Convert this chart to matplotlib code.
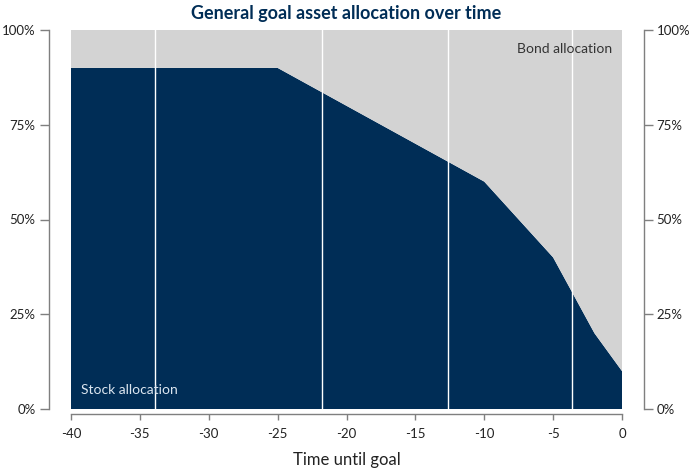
import numpy as np
import matplotlib.pyplot as plt
from matplotlib.ticker import FuncFormatter

plt.rcParams['font.family'] = ['Lato', 'DejaVu Sans']

years = [-40, -25, -10, -5, -2, 0]
stock = [90, 90, 60, 40, 20, 10]
bond = [100 - s for s in stock]
vlines = [-33.9, -21.75, -12.65, -3.65]
yticks = [0, 25, 50, 75, 100]
xticks = [-40, -35, -30, -25, -20, -15, -10, -5, 0]

navy = '#002D56'
grey = '#D3D3D3'
spine_c = '#7F7F7F'

fig = plt.figure(figsize=(6.94, 4.72), dpi=100)
ax = fig.add_axes([71/694, 1-409/472, (622-71)/694, (409-30)/472])
ax.stackplot(years, stock, bond, colors=[navy, grey], linewidth=0)
for v in vlines:
    ax.axvline(v, color='white', lw=1)
ax.set_xlim(-40, 0)
ax.set_ylim(0, 100)
ax.margins(0)

ax.set_xticks(xticks)
ax.set_xticklabels([str(t) for t in xticks])
ax.set_yticks(yticks)
ax.yaxis.set_major_formatter(FuncFormatter(lambda v, p: f'{v:.0f}%'))
ax.tick_params(axis='y', which='both', left=True, right=True,
               labelleft=True, labelright=True, length=6.5, width=1,
               color=spine_c, labelsize=9.5, labelcolor='#222222', pad=3)
ax.tick_params(axis='x', length=4.5, width=1, color=spine_c, labelsize=9.5,
               labelcolor='#222222', pad=6)

ax.spines['top'].set_visible(False)
ax.spines['left'].set_position(('outward', 16))
ax.spines['right'].set_position(('outward', 15.5))
ax.spines['bottom'].set_position(('outward', 3.5))
for s in ['left', 'right', 'bottom']:
    ax.spines[s].set_color(spine_c)
    ax.spines[s].set_linewidth(1)

ax.set_xlabel('Time until goal', fontsize=12, color='#222222', labelpad=8)
ax.set_title('General goal asset allocation over time', fontsize=13,
             fontweight='bold', color=navy, pad=8)

ax.text(-39.3, 5, 'Stock allocation', color='#DCE6F0', fontsize=10,
        va='center', ha='left')
ax.text(-0.7, 95, 'Bond allocation', color='#333333', fontsize=10,
        va='center', ha='right')

fig.savefig('out.png', dpi=100)
